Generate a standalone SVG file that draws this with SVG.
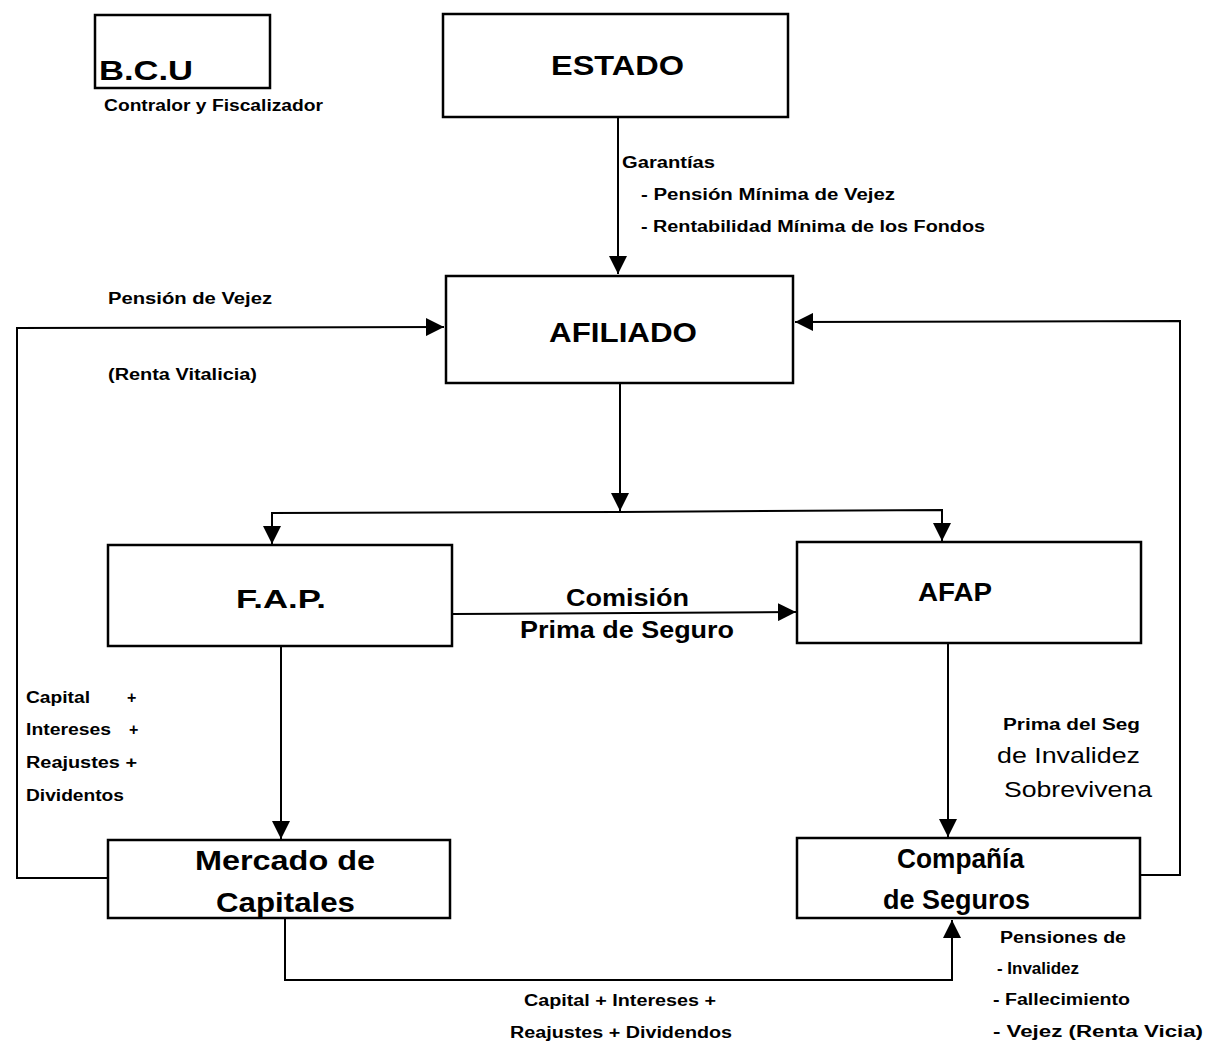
<svg xmlns="http://www.w3.org/2000/svg" width="1205" height="1045" viewBox="0 0 1205 1045">
<style>
.box{fill:#fff;stroke:#000;stroke-width:2.5}
.ln{fill:none;stroke:#000;stroke-width:2}
.t{font-family:"Liberation Sans",Arial,sans-serif;font-weight:bold;fill:#000}
.big{font-size:28px}
.med{font-size:23px}
.sm{font-size:16px}
.reg{font-family:"Liberation Sans",Arial,sans-serif;font-weight:normal;font-size:22px;fill:#000}
</style>
<defs>
<marker id="ah" viewBox="0 0 10 10" refX="10" refY="5" markerWidth="18" markerHeight="18" markerUnits="userSpaceOnUse" orient="auto">
<path d="M0,0 L10,5 L0,10 z" fill="#000"/>
</marker>
</defs>
<rect width="1205" height="1045" fill="#fff"/>
<g id="connectors">
<line class="ln" x1="618" y1="117" x2="618" y2="274" marker-end="url(#ah)"/>
<polyline class="ln" points="107,878 17,878 17,328 444,327" marker-end="url(#ah)"/>
<polyline class="ln" points="1140,875 1180,875 1180,321 795,322" marker-end="url(#ah)"/>
<line class="ln" x1="620" y1="383" x2="620" y2="511" marker-end="url(#ah)"/>
<polyline class="ln" points="620,512 272,513 272,544" marker-end="url(#ah)"/>
<polyline class="ln" points="620,512 942,510 942,541" marker-end="url(#ah)"/>
<line class="ln" x1="452" y1="614" x2="796" y2="612" marker-end="url(#ah)"/>
<line class="ln" x1="281" y1="646" x2="281" y2="839" marker-end="url(#ah)"/>
<line class="ln" x1="948" y1="643" x2="948" y2="837" marker-end="url(#ah)"/>
<polyline class="ln" points="285,919 285,980 952,980 952,920" marker-end="url(#ah)"/>
</g>
<g id="bcu">
<rect class="box" x="95" y="15" width="175" height="73"/>
<text class="t big" x="99" y="80" textLength="94" lengthAdjust="spacingAndGlyphs">B.C.U</text>
<text class="t sm" x="104" y="111" textLength="219" lengthAdjust="spacingAndGlyphs">Contralor y Fiscalizador</text>
</g>
<g id="estado">
<rect class="box" x="443" y="14" width="345" height="103"/>
<text class="t big" x="551" y="75" textLength="133" lengthAdjust="spacingAndGlyphs">ESTADO</text>
</g>
<g id="afiliado">
<rect class="box" x="446" y="276" width="347" height="107"/>
<text class="t big" x="549" y="342" textLength="148" lengthAdjust="spacingAndGlyphs">AFILIADO</text>
</g>
<g id="fap">
<rect class="box" x="108" y="545" width="344" height="101"/>
<text class="t" font-size="26" x="236" y="608" textLength="90" lengthAdjust="spacingAndGlyphs">F.A.P.</text>
</g>
<g id="afap">
<rect class="box" x="797" y="542" width="344" height="101"/>
<text class="t" font-size="25" x="918" y="601" textLength="74" lengthAdjust="spacingAndGlyphs">AFAP</text>
</g>
<g id="mercado">
<rect class="box" x="108" y="840" width="342" height="78"/>
<text class="t big" x="195" y="870" textLength="180" lengthAdjust="spacingAndGlyphs">Mercado de</text>
<text class="t big" x="216" y="912" textLength="139" lengthAdjust="spacingAndGlyphs">Capitales</text>
</g>
<g id="compania">
<rect class="box" x="797" y="838" width="343" height="80"/>
<text class="t big" x="897" y="868" textLength="127" lengthAdjust="spacingAndGlyphs">Compañía</text>
<text class="t big" x="883" y="909" textLength="147" lengthAdjust="spacingAndGlyphs">de Seguros</text>
</g>
<g id="labels">
<text class="t sm" x="622" y="168" textLength="93" lengthAdjust="spacingAndGlyphs">Garantías</text>
<text class="t sm" x="641" y="200" textLength="254" lengthAdjust="spacingAndGlyphs">- Pensión Mínima de Vejez</text>
<text class="t sm" x="641" y="232" textLength="344" lengthAdjust="spacingAndGlyphs">- Rentabilidad Mínima de los Fondos</text>
<text class="t sm" x="108" y="304" textLength="164" lengthAdjust="spacingAndGlyphs">Pensión de Vejez</text>
<text class="t sm" x="108" y="380" textLength="149" lengthAdjust="spacingAndGlyphs">(Renta Vitalicia)</text>
<text class="t med" x="566" y="606" textLength="123" lengthAdjust="spacingAndGlyphs">Comisión</text>
<text class="t med" x="520" y="638" textLength="214" lengthAdjust="spacingAndGlyphs">Prima de Seguro</text>
<text class="t sm" x="26" y="703" textLength="64" lengthAdjust="spacingAndGlyphs">Capital</text>
<text class="t sm" x="127" y="703">+</text>
<text class="t sm" x="26" y="735" textLength="85" lengthAdjust="spacingAndGlyphs">Intereses</text>
<text class="t sm" x="129" y="735">+</text>
<text class="t sm" x="26" y="768" textLength="111" lengthAdjust="spacingAndGlyphs">Reajustes +</text>
<text class="t sm" x="26" y="801" textLength="98" lengthAdjust="spacingAndGlyphs">Dividentos</text>
<text class="t sm" x="1003" y="730" textLength="137" lengthAdjust="spacingAndGlyphs">Prima del Seg</text>
<text class="reg" x="997" y="763" textLength="143" lengthAdjust="spacingAndGlyphs">de Invalidez</text>
<text class="reg" x="1004" y="797" textLength="148" lengthAdjust="spacingAndGlyphs">Sobrevivena</text>
<text class="t sm" x="524" y="1006" textLength="192" lengthAdjust="spacingAndGlyphs">Capital + Intereses +</text>
<text class="t sm" x="510" y="1038" textLength="222" lengthAdjust="spacingAndGlyphs">Reajustes + Dividendos</text>
<text class="t sm" x="1000" y="943" textLength="126" lengthAdjust="spacingAndGlyphs">Pensiones de</text>
<text class="t" font-size="17" x="997" y="974" textLength="82" lengthAdjust="spacingAndGlyphs">- Invalidez</text>
<text class="t sm" x="993" y="1005" textLength="137" lengthAdjust="spacingAndGlyphs">- Fallecimiento</text>
<text class="t sm" x="993" y="1037" textLength="210" lengthAdjust="spacingAndGlyphs">- Vejez (Renta Vicia)</text>
</g>
</svg>
